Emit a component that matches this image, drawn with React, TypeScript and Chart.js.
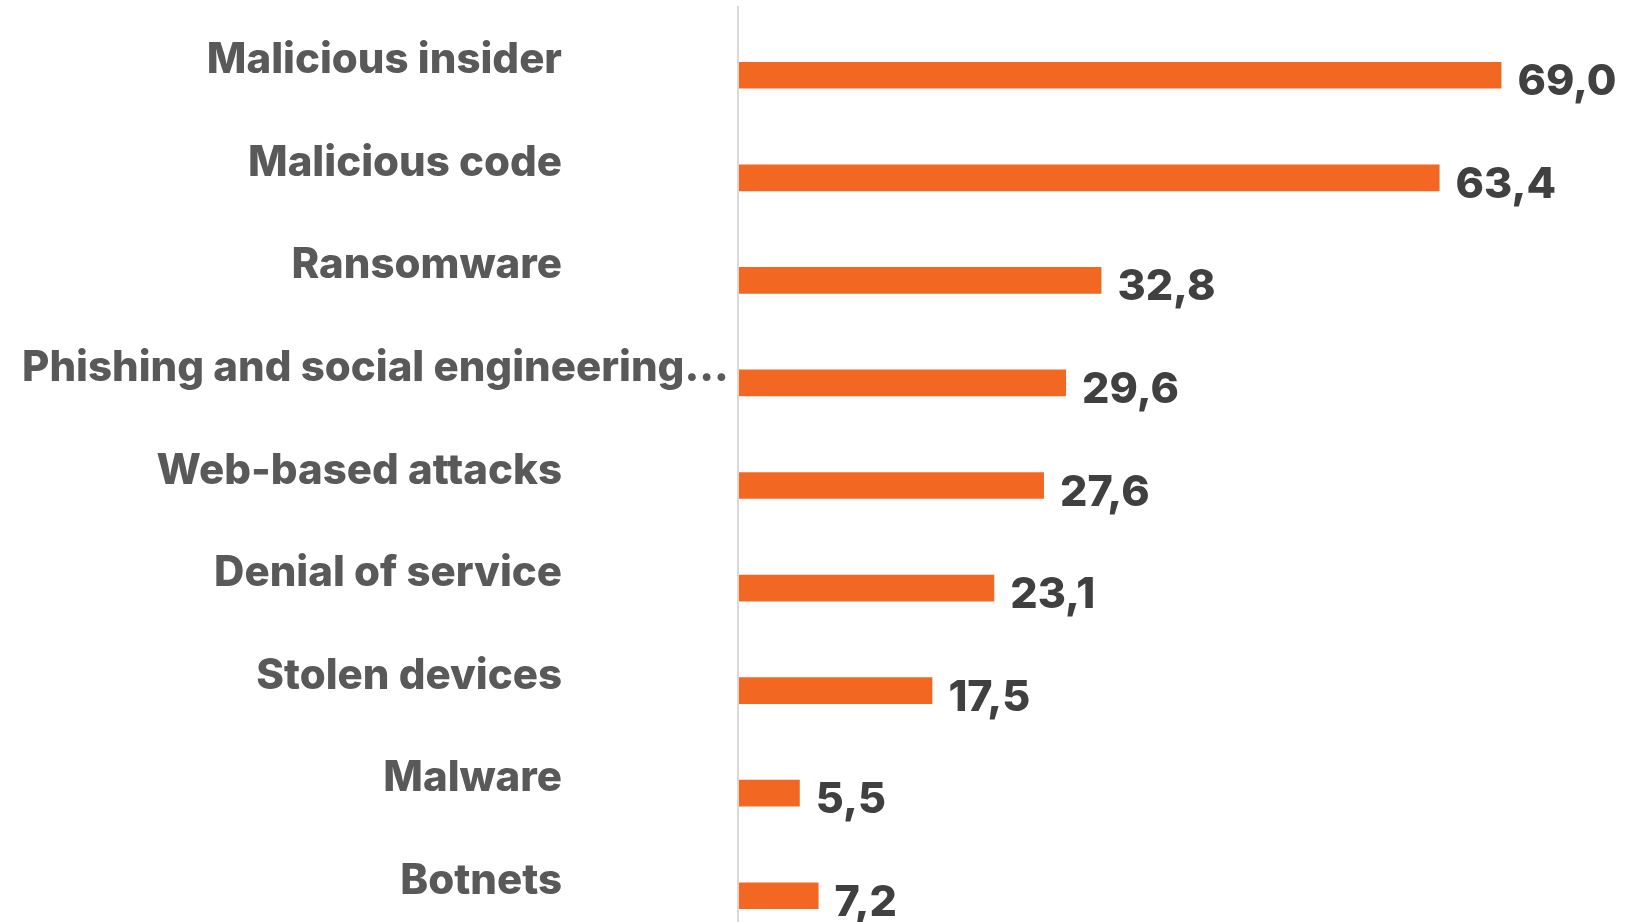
import React, { useEffect, useRef } from "react";
import { Chart, registerables } from "chart.js";

Chart.register(...registerables);

const categories = [
  "Malicious insider",
  "Malicious code",
  "Ransomware",
  "Phishing and social engineering...",
  "Web-based attacks",
  "Denial of service",
  "Stolen devices",
  "Malware",
  "Botnets",
];
const values = [69.0, 63.4, 32.8, 29.6, 27.6, 23.1, 17.5, 5.5, 7.2];

const BAR_COLOR = "#F26823";
const LABEL_COLOR = "#595959";
const VALUE_COLOR = "#404040";
const FONT_FAMILY = "Inter, 'Noto Sans', sans-serif";

const labelsPlugin = {
  id: "customLabels",
  beforeDatasetsDraw(chart: any) {
    const { ctx } = chart;
    const xs = chart.scales.x;
    const x0 = xs.getPixelForValue(0);
    ctx.save();
    ctx.strokeStyle = "#d9d9d9";
    ctx.lineWidth = 2;
    ctx.beginPath();
    ctx.moveTo(x0 - 1, 6);
    ctx.lineTo(x0 - 1, chart.height);
    ctx.stroke();
    ctx.restore();
  },
  afterDatasetsDraw(chart: any) {
    const { ctx } = chart;
    const xs = chart.scales.x;
    const ys = chart.scales.y;
    ctx.save();
    ctx.textAlign = "left";
    ctx.textBaseline = "alphabetic";
    ctx.font = `800 42px ${FONT_FAMILY}`;
    ctx.fillStyle = LABEL_COLOR;
    categories.forEach((c, i) => {
      const yc = ys.getPixelForValue(i);
      const w = ctx.measureText(c).width;
      const x = Math.max(22, 562 - w);
      ctx.fillText(c, x, yc - 2);
    });
    ctx.font = `800 43px ${FONT_FAMILY}`;
    ctx.fillStyle = VALUE_COLOR;
    values.forEach((v, i) => {
      const yc = ys.getPixelForValue(i);
      const xe = xs.getPixelForValue(v);
      ctx.fillText(v.toFixed(1).replace(".", ","), xe + 16, yc + 20);
    });
    ctx.restore();
  },
};

export default function App() {
  const ref = useRef<HTMLCanvasElement>(null);
  useEffect(() => {
    if (!ref.current) return;
    const chart = new Chart(ref.current, {
      type: "bar",
      data: {
        labels: categories,
        datasets: [
          {
            data: values,
            backgroundColor: BAR_COLOR,
            borderWidth: 0,
            barPercentage: 0.26,
            categoryPercentage: 1,
          },
        ],
      },
      options: {
        indexAxis: "y",
        animation: false,
        responsive: false,
        devicePixelRatio: 1,
        layout: { padding: { left: 739, right: 22, top: 24, bottom: 3 } },
        plugins: { legend: { display: false }, tooltip: { enabled: false } },
        scales: {
          x: { type: "linear", min: 0, max: 80, display: false },
          y: { type: "category", display: false },
        },
      },
      plugins: [labelsPlugin],
    });
    return () => chart.destroy();
  }, []);
  return (
    <div
      style={{
        position: "fixed",
        left: 0,
        top: 0,
        width: 1645,
        height: 922,
        overflow: "hidden",
        background: "#fff",
      }}
    >
      <canvas ref={ref} width={1645} height={950} style={{ display: "block" }} />
    </div>
  );
}
